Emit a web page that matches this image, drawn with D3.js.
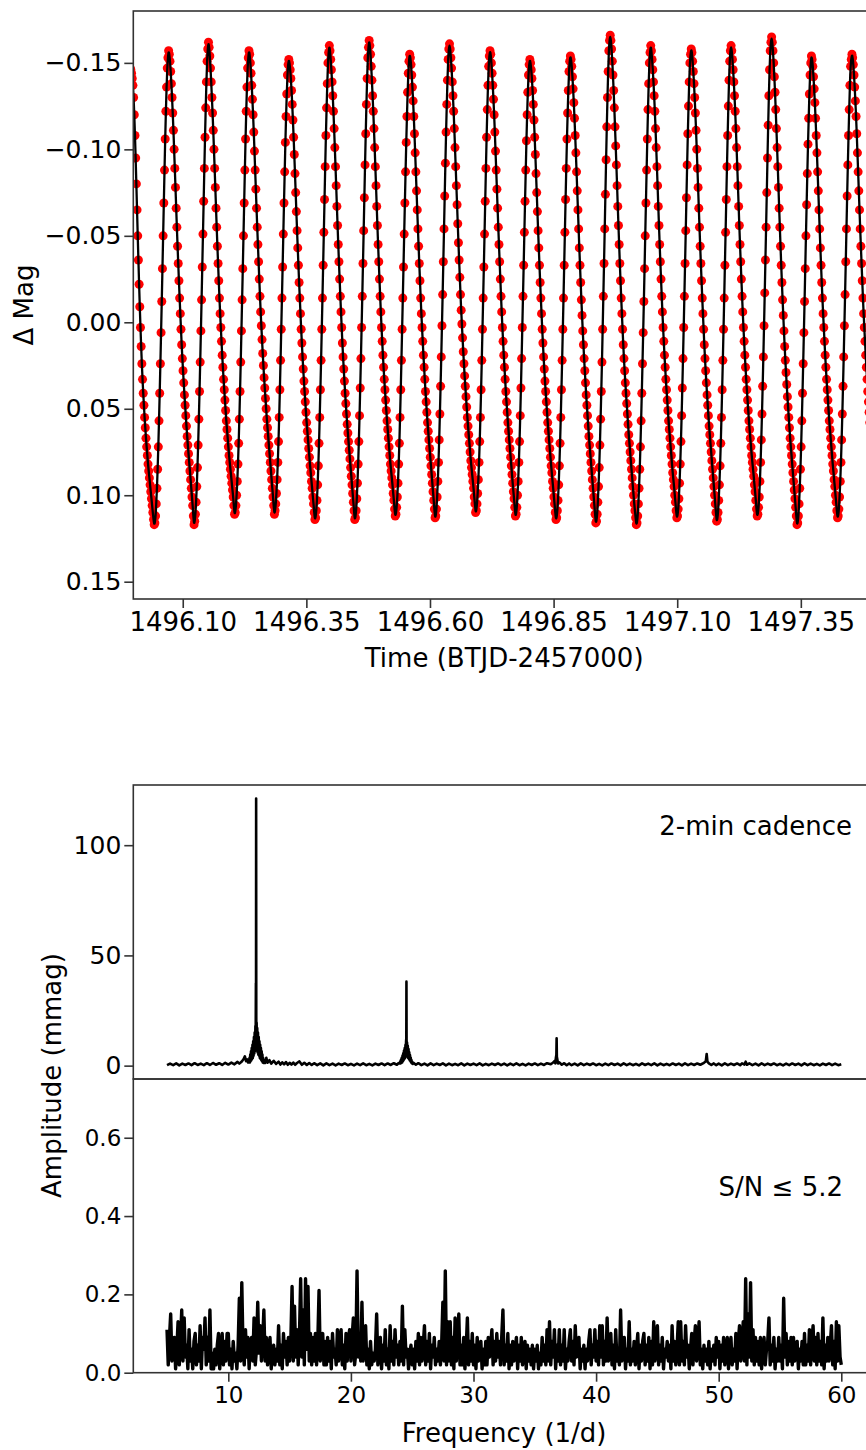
<!DOCTYPE html>
<html>
<head>
<meta charset="utf-8">
<script src="https://cdn.jsdelivr.net/npm/d3@7"></script>
<style>
  body { margin: 0; background: #fff; }
  svg { display: block; font-family: "DejaVu Sans", sans-serif; }
</style>
</head>
<body>
<svg id="fig" width="866" height="1450"></svg>
<script>
'use strict';

// ---- light curve: 2-min cadence, delta mag in mmag, one row per pulsation cycle (peak to peak)
var t0 = 1495.9895;
var cadence = 2 / 1440;
var lcCycles = [
  [-150,-149,-148,-147,-146,-144,-141,-137,-130,-120,-108,-95,-80,-65,-50,-36,-22,-9,3,14,24,33,41,48,55,61,67,72,77,82,86,90,94,98,102,106,110,114,
   117,116,112,105,96,85,72,57,41,24,6,-12,-31,-50,-69,-88,-106,-122,-136,-147,-153],
  [-157,-155,-151,-145,-138,-130,-121,-111,-100,-89,-78,-66,-55,-44,-34,-24,-14,-5,4,13,21,28,35,42,48,54,60,66,71,76,81,86,91,96,101,106,112,
   117,115,111,104,95,84,71,56,40,23,5,-13,-32,-51,-70,-89,-107,-124,-139,-151,-158],
  [-162,-159,-154,-147,-139,-130,-121,-111,-100,-89,-78,-66,-55,-44,-34,-24,-14,-5,3,11,19,26,33,39,45,51,57,62,67,72,77,81,85,89,93,97,101,106,
   111,110,106,100,92,82,70,56,40,23,5,-13,-31,-50,-69,-88,-106,-122,-136,-147,-153],
  [-157,-155,-150,-144,-137,-129,-120,-110,-99,-88,-77,-66,-55,-45,-35,-25,-15,-6,2,10,18,25,32,38,44,50,56,61,66,71,76,81,86,91,96,101,106,
   111,109,105,99,91,81,69,55,39,22,4,-14,-32,-51,-69,-87,-104,-119,-132,-143,-149],
  [-152,-150,-146,-141,-134,-126,-117,-107,-97,-86,-75,-64,-53,-43,-33,-23,-14,-5,4,12,20,27,34,40,46,52,58,63,68,73,78,83,87,92,96,101,105,110,
   114,113,109,103,94,83,70,55,39,22,4,-14,-33,-52,-71,-90,-108,-124,-138,-150,-156],
  [-160,-157,-152,-146,-139,-131,-122,-112,-101,-90,-79,-67,-56,-45,-35,-25,-15,-6,3,12,20,27,34,41,47,53,59,64,69,74,79,84,89,94,99,104,109,
   114,113,109,102,93,82,69,54,38,21,3,-15,-34,-53,-72,-91,-109,-126,-141,-153,-159],
  [-163,-160,-155,-148,-140,-131,-122,-112,-101,-90,-79,-67,-56,-45,-35,-25,-15,-6,3,11,19,26,33,39,45,51,57,62,67,72,77,82,86,90,94,99,103,108,
   112,111,107,101,93,82,70,55,39,22,4,-14,-32,-51,-69,-87,-104,-119,-133,-144,-151],
  [-155,-153,-149,-143,-136,-128,-119,-109,-98,-87,-76,-65,-54,-44,-34,-24,-14,-5,3,11,19,26,33,40,46,52,58,63,68,73,78,83,88,93,98,103,108,
   113,112,108,101,92,81,68,53,37,20,2,-16,-35,-54,-73,-92,-110,-126,-140,-152,-158],
  [-161,-158,-153,-147,-139,-131,-122,-112,-101,-90,-79,-68,-57,-46,-36,-26,-16,-7,1,9,17,24,31,37,43,49,55,60,65,70,75,80,84,88,92,96,101,105,
   110,109,105,99,91,81,69,55,39,22,4,-14,-32,-51,-70,-89,-107,-123,-137,-148,-154],
  [-157,-155,-150,-144,-137,-129,-120,-110,-99,-88,-77,-66,-55,-45,-35,-25,-15,-6,3,11,19,26,33,40,46,52,58,63,68,73,78,83,88,93,98,102,107,
   112,111,107,100,92,81,69,54,38,21,3,-15,-33,-52,-70,-88,-105,-120,-133,-143,-149],
  [-152,-150,-146,-141,-134,-126,-117,-107,-97,-86,-75,-64,-53,-43,-33,-23,-14,-5,4,12,20,27,34,40,46,52,58,63,68,73,78,83,87,92,96,101,105,110,
   114,113,109,103,94,83,70,55,39,22,4,-14,-33,-52,-71,-89,-106,-121,-134,-145,-151],
  [-154,-152,-148,-142,-135,-127,-118,-108,-98,-87,-76,-65,-54,-43,-33,-23,-13,-4,5,13,21,28,35,42,48,54,60,66,71,76,81,86,91,96,101,106,111,
   116,115,111,104,95,84,71,56,40,23,4,-15,-34,-54,-74,-94,-113,-130,-145,-157,-163],
  [-166,-163,-158,-151,-143,-134,-124,-113,-102,-91,-79,-67,-56,-45,-34,-24,-14,-5,4,13,21,28,35,41,47,53,59,65,70,75,80,85,90,95,100,105,109,113,
   117,116,112,105,96,85,72,57,41,24,6,-12,-31,-50,-69,-88,-106,-123,-138,-150,-156],
  [-160,-157,-152,-146,-139,-131,-122,-112,-101,-90,-79,-67,-56,-45,-35,-25,-15,-6,3,11,19,26,33,39,45,51,57,62,67,72,77,82,87,91,95,100,104,109,
   113,112,108,102,93,82,69,54,38,21,3,-15,-34,-53,-72,-91,-109,-125,-139,-150,-155],
  [-158,-156,-151,-145,-138,-130,-121,-111,-100,-89,-78,-66,-55,-44,-34,-24,-14,-5,4,13,21,28,35,42,48,54,60,65,70,75,80,85,90,95,100,105,110,
   115,114,110,103,94,83,70,55,39,22,4,-14,-33,-52,-71,-90,-108,-125,-140,-151,-157],
  [-160,-157,-152,-146,-139,-131,-122,-112,-101,-90,-79,-67,-56,-45,-35,-25,-15,-6,3,11,19,26,33,39,45,51,57,62,67,72,77,81,85,89,94,98,103,108,
   112,111,107,101,92,81,68,53,37,20,2,-17,-36,-55,-75,-95,-114,-131,-146,-157,-162],
  [-165,-162,-157,-150,-142,-133,-123,-112,-101,-90,-78,-66,-55,-44,-33,-23,-13,-4,5,14,22,29,36,43,49,55,61,67,72,77,82,87,92,97,102,107,112,
   117,116,112,105,96,85,72,57,41,24,6,-12,-31,-50,-68,-86,-103,-118,-132,-143,-150],
  [-154,-152,-148,-142,-135,-127,-118,-108,-98,-87,-76,-65,-54,-43,-33,-23,-14,-5,3,11,19,26,33,39,45,51,57,62,67,72,77,82,86,91,95,100,104,109,
   113,112,108,101,92,81,68,53,37,20,2,-16,-35,-54,-73,-91,-108,-123,-137,-148,-152],
  [-155,-153,-149,-143,-136,-128,-119,-109,-98,-87,-76,-65,-54,-44,-34,-24,-14,-5,3,11,19,26,33,40,46,52,58,63,68,73,78,83,88,93]
];
var lcTicksX = [1496.10, 1496.35, 1496.60, 1496.85, 1497.10, 1497.35];
var lcTicksY = [-0.15, -0.10, -0.05, 0.00, 0.05, 0.10, 0.15];

// ---- amplitude spectrum of the 2-min data: [frequency (1/d), amplitude (mmag)]
var spec2min = [
  [5.0,0.2],[5.25,0.9],[5.5,0.2],[5.75,1.0],[6.0,0.1],[6.25,0.9],[6.5,0.3],[6.75,1.0],[7.0,0.2],[7.25,1.1],[7.5,0.3],[7.75,0.9],[8.0,0.2],
  [8.25,1.1],[8.5,0.3],[8.75,1.2],[9.0,0.4],[9.25,1.1],[9.5,0.3],[9.75,1.3],[10.0,0.5],[10.25,1.4],[10.5,0.6],[10.75,1.7],[10.9,0.9],
  [11.1,1.9],[11.25,3.0],[11.35,4.2],[11.45,2.0],[11.55,2.8],[11.62,1.4],
  [11.70,1.5],[11.73,3.5],[11.76,1.5],[11.79,5.0],[11.82,2.0],[11.85,6.5],[11.88,2.5],[11.91,8.0],[11.94,3.0],[11.97,9.5],[12.00,3.5],
  [12.03,11.0],[12.06,4.5],[12.09,13.0],[12.12,5.5],[12.15,15.0],[12.18,6.5],[12.21,18.0],[12.23,8.0],[12.24,22.0],[12.25,37.5],[12.26,20.0],
  [12.27,121.2],[12.28,22.0],[12.29,9.0],[12.31,19.5],[12.33,7.0],[12.36,17.0],[12.39,6.0],[12.42,15.0],[12.45,5.0],[12.48,13.0],[12.51,4.5],
  [12.54,11.0],[12.57,3.5],[12.60,9.5],[12.63,3.0],[12.66,8.0],[12.69,2.5],[12.72,6.5],[12.75,2.0],[12.78,5.0],[12.81,1.5],[12.84,3.5],[12.87,1.2],
  [12.94,2.5],[13.0,1.2],[13.1,3.6],[13.2,1.3],[13.35,2.5],[13.5,0.9],[13.7,2.2],[13.9,0.8],[14.1,1.8],[14.25,0.5],[14.4,1.5],[14.55,0.6],
  [14.7,1.6],[14.85,0.4],[15.0,1.3],[15.15,0.5],[15.3,1.4],[15.45,0.4],[15.6,1.2],[15.8,1.9],[16.0,0.4],[16.2,1.3],[16.4,0.3],[16.6,1.2],
  [16.8,0.3],[17.0,1.1],[17.25,0.2],[17.5,1.0],[17.75,0.1],[18.0,1.0],[18.25,0.2],[18.5,0.9],[18.75,0.1],[19.0,0.9],[19.25,0.3],[19.5,1.0],
  [19.75,0.2],[20.0,0.8],[20.25,0.1],[20.5,0.9],[20.75,0.2],[21.0,1.0],[21.25,0.2],[21.5,0.8],[21.75,0.1],[22.0,0.9],[22.25,0.3],[22.5,1.0],
  [22.75,0.2],[23.0,1.0],[23.25,0.3],[23.5,1.1],[23.75,0.4],[23.9,1.2],
  [24.00,1.0],[24.03,2.0],[24.06,1.0],[24.09,2.8],[24.12,1.2],[24.15,3.6],[24.18,1.5],[24.21,4.6],[24.24,2.0],[24.27,5.6],[24.30,2.5],[24.33,6.8],
  [24.36,3.0],[24.39,8.0],[24.42,3.5],[24.45,9.4],[24.48,4.5],[24.50,11.0],[24.52,12.5],[24.53,38.1],[24.54,12.0],[24.56,5.0],[24.58,10.5],
  [24.61,4.0],[24.64,9.0],[24.67,3.5],[24.70,7.5],[24.73,3.0],[24.76,6.0],[24.79,2.5],[24.82,4.8],[24.85,2.0],[24.88,3.6],[24.91,1.5],[24.94,2.5],
  [24.97,1.0],[25.00,1.8],[25.05,0.8],[25.1,1.3],[25.3,0.4],[25.5,1.1],[25.75,0.2],[26.0,0.9],[26.25,0.1],[26.5,1.0],[26.75,0.2],[27.0,0.9],
  [27.25,0.3],[27.5,1.0],[27.75,0.1],[28.0,0.9],[28.25,0.2],[28.5,0.8],[28.75,0.2],[29.0,1.0],[29.25,0.1],[29.5,0.9],[29.75,0.3],[30.0,0.9],
  [30.25,0.2],[30.5,1.0],[30.75,0.1],[31.0,0.8],[31.25,0.2],[31.5,0.9],[31.75,0.3],[32.0,1.0],[32.25,0.2],[32.5,0.9],[32.75,0.1],[33.0,0.9],
  [33.25,0.2],[33.5,1.0],[33.75,0.2],[34.0,0.8],[34.25,0.1],[34.5,0.9],[34.75,0.3],[35.0,1.0],[35.25,0.2],[35.5,0.9],[35.75,0.3],[36.0,1.1],
  [36.3,0.6],[36.5,1.4],[36.6,2.0],[36.68,1.0],[36.72,3.5],[36.76,5.0],[36.78,12.4],[36.8,4.0],[36.85,2.5],[36.9,1.0],[37.0,1.5],[37.2,0.4],
  [37.4,1.1],[37.6,0.2],[37.8,1.0],[38.0,0.2],[38.25,0.9],[38.5,0.1],[38.75,1.0],[39.0,0.2],[39.25,0.9],[39.5,0.3],[39.75,1.0],[40.0,0.2],
  [40.25,0.8],[40.5,0.1],[40.75,0.9],[41.0,0.2],[41.25,1.0],[41.5,0.3],[41.75,0.9],[42.0,0.1],[42.25,1.0],[42.5,0.2],[42.75,0.9],[43.0,0.2],
  [43.25,0.8],[43.5,0.1],[43.75,1.0],[44.0,0.3],[44.25,0.9],[44.5,0.2],[44.75,1.0],[45.0,0.1],[45.25,0.9],[45.5,0.2],[45.75,0.8],[46.0,0.2],
  [46.25,1.0],[46.5,0.3],[46.75,0.9],[47.0,0.1],[47.25,1.0],[47.5,0.2],[47.75,0.9],[48.0,0.3],[48.25,1.0],[48.5,0.4],[48.8,1.3],[48.95,2.0],
  [49.02,5.3],[49.08,1.8],[49.2,1.0],[49.4,0.3],[49.6,1.0],[49.8,0.2],[50.0,0.9],[50.25,0.1],[50.5,1.0],[50.75,0.2],[51.0,0.9],[51.25,0.3],
  [51.5,1.0],[51.75,0.2],[51.9,1.0],[52.1,0.5],[52.2,1.8],[52.3,0.4],[52.5,1.0],[52.75,0.2],[53.0,0.9],[53.25,0.1],[53.5,1.0],[53.75,0.2],
  [54.0,0.9],[54.25,0.3],[54.5,1.0],[54.75,0.2],[55.0,0.8],[55.25,0.1],[55.5,0.9],[55.75,0.2],[56.0,1.0],[56.25,0.3],[56.5,0.9],[56.75,0.1],
  [57.0,1.0],[57.25,0.2],[57.5,0.9],[57.75,0.2],[58.0,0.8],[58.25,0.1],[58.5,0.9],[58.75,0.3],[59.0,1.0],[59.25,0.2],[59.5,0.9],[59.75,0.2],
  [60.0,0.6]
];

// ---- residual spectrum after prewhitening, 0.1 (1/d) steps from 5.0, amplitude in 0.01 mmag
var residF0 = 5.0;
var residStep = 0.1;
var resid = [
  11,2,9,15,3,7,9,1,6,13,  2,8,16,3,14,4,7,1,11,3,  6,1,8,10,2,7,3,12,1,9,  6,14,2,9,3,16,1,5,1,6,  2,7,10,1,6,10,2,8,3,10,
  10,2,6,1,8,3,5,1,7,19,  3,23,6,2,11,4,9,1,8,9,  3,14,2,6,18,5,12,3,8,16,  3,9,2,6,9,1,5,7,2,6,  3,12,2,7,1,10,4,8,2,9,
  3,8,22,3,17,4,11,2,9,24,  4,16,2,24,6,22,3,10,2,9,  3,10,2,8,21,3,9,10,2,8,  2,9,3,8,1,10,4,6,2,11,  3,8,11,2,7,1,10,3,9,11,
  3,9,14,2,5,26,4,10,3,18,  3,8,12,2,6,1,8,2,5,3,  6,15,2,8,9,1,7,3,11,2,  6,1,12,3,8,2,11,4,7,2,  8,3,17,2,11,4,6,1,5,7,
  2,6,1,8,3,10,2,9,3,7,  12,2,8,3,10,1,7,4,9,2,  6,3,8,2,7,18,3,26,2,13,  3,13,2,9,1,14,3,8,15,2,  7,2,9,1,6,14,2,8,3,10,
  2,7,1,9,3,6,8,1,6,2,  8,2,9,4,7,11,2,8,3,10,  4,8,2,9,16,2,7,3,10,1,  7,2,8,3,6,9,1,7,3,9,  2,6,8,1,7,3,6,2,7,1,
  6,3,7,1,5,2,9,3,7,2,  11,3,13,2,8,4,11,1,7,3,  11,2,7,3,11,1,6,3,8,11,  3,8,2,12,4,7,9,1,6,3,  7,1,6,3,8,11,2,7,4,11,
  3,8,2,12,4,12,2,8,3,14,  3,6,10,2,7,1,11,3,6,2,  16,3,7,9,1,6,3,13,2,6,  3,8,2,6,10,1,7,3,8,10,  2,7,3,9,1,8,2,13,3,7,
  12,2,7,3,9,1,6,4,8,3,  7,1,12,3,8,2,6,13,2,13,  3,8,2,12,4,7,1,6,10,2,  8,12,3,7,13,2,6,1,7,3,  6,2,8,1,6,3,7,2,9,4,
  8,1,7,3,9,2,6,9,1,7,  9,2,6,3,10,1,8,12,3,6,  13,3,24,2,15,4,23,3,11,2,  9,3,8,2,9,1,7,9,2,6,  8,14,2,7,3,9,1,6,3,9,
  3,7,1,19,4,10,2,8,3,9,  2,9,3,7,8,1,6,3,8,2,  10,2,7,3,11,2,8,12,3,9,  2,10,3,8,2,14,1,7,3,9,  3,7,12,2,8,1,13,3,12,4,
  2
];
var freqTicks = [10, 20, 30, 40, 50, 60];
var ampTicksTop = [0, 50, 100];
var ampTicksBottom = [0.0, 0.2, 0.4, 0.6];

// ---- layout
var svg = d3.select('#fig');
var left = 133.3, right = 875;
var lc = {top: 11, bottom: 599};
var sp1 = {top: 785, bottom: 1079};
var sp2 = {top: 1079, bottom: 1372.7};
var spine = '#333';
var font = 'DejaVu Sans';

function clip(id, y0, y1) {
  svg.append('clipPath').attr('id', id)
    .append('rect').attr('x', left).attr('y', y0).attr('width', right - left).attr('height', y1 - y0);
}
function styleAxis(g, size) {
  g.select('.domain').remove();
  g.attr('font-family', font).attr('font-size', size);
  g.selectAll('.tick line').attr('stroke', spine).attr('stroke-width', 1.6);
  g.selectAll('.tick text').attr('fill', '#000');
}
function frame(y0, y1) {
  svg.append('rect').attr('x', left).attr('y', y0).attr('width', right - left).attr('height', y1 - y0)
    .attr('fill', 'none').attr('stroke', spine).attr('stroke-width', 1.6);
}

// ---- top panel: light curve
var xT = d3.scaleLinear().domain([1496.0, 1497.5]).range([left, right]);
var yT = d3.scaleLinear().domain([-0.18, 0.16]).range([lc.top, lc.bottom]);
var lcMag = d3.merge(lcCycles);
var lcData = lcMag.map(function(m, i) { return {t: t0 + i * cadence, m: m / 1000}; });

clip('clipLC', lc.top, lc.bottom);
var gLC = svg.append('g').attr('clip-path', 'url(#clipLC)');
gLC.selectAll('circle').data(lcData).enter().append('circle')
  .attr('cx', function(d) { return xT(d.t); })
  .attr('cy', function(d) { return yT(d.m); })
  .attr('r', 4.5)
  .attr('fill', '#ff0000');
gLC.append('path').datum(lcData)
  .attr('fill', 'none').attr('stroke', '#000').attr('stroke-width', 2.3)
  .attr('d', d3.line().curve(d3.curveBasis)
    .x(function(d) { return xT(d.t); })
    .y(function(d) { return yT(d.m); }));
frame(lc.top, lc.bottom);

svg.append('g').attr('transform', 'translate(' + left + ',0)')
  .call(d3.axisLeft(yT).tickValues(lcTicksY).tickSize(9).tickPadding(3).tickFormat(d3.format('.2f')))
  .call(styleAxis, 25);
svg.append('g').attr('transform', 'translate(0,' + lc.bottom + ')')
  .call(d3.axisBottom(xT).tickValues(lcTicksX).tickSize(9).tickPadding(5).tickFormat(d3.format('.2f')))
  .call(styleAxis, 26);

svg.append('text').attr('x', (left + right) / 2).attr('y', 667)
  .attr('text-anchor', 'middle').attr('font-size', 26).text('Time (BTJD-2457000)');
svg.append('text').attr('transform', 'translate(32.5,' + (lc.top + lc.bottom) / 2 + ') rotate(-90)')
  .attr('text-anchor', 'middle').attr('font-size', 26).text('Δ Mag');

// ---- spectra
var xF = d3.scaleLinear().domain([2.25, 62.75]).range([left, right]);
var yA1 = d3.scaleLinear().domain([-6.06, 127.3]).range([sp1.bottom, sp1.top]);
var yA2 = d3.scaleLinear().domain([0, 0.75]).range([sp2.bottom, sp2.top]);

clip('clipS1', sp1.top, sp1.bottom);
svg.append('g').attr('clip-path', 'url(#clipS1)')
  .append('path').datum(spec2min)
  .attr('fill', 'none').attr('stroke', '#000').attr('stroke-width', 2.6).attr('stroke-linejoin', 'round')
  .attr('d', d3.line()
    .x(function(d) { return xF(d[0]); })
    .y(function(d) { return yA1(d[1]); }));

clip('clipS2', sp2.top, sp2.bottom);
svg.append('g').attr('clip-path', 'url(#clipS2)')
  .append('path').datum(resid)
  .attr('fill', 'none').attr('stroke', '#000').attr('stroke-width', 3.4).attr('stroke-linejoin', 'round')
  .attr('d', d3.line()
    .x(function(d, i) { return xF(residF0 + i * residStep); })
    .y(function(d) { return yA2(d / 100); }));

frame(sp1.top, sp1.bottom);
frame(sp2.top, sp2.bottom);

svg.append('g').attr('transform', 'translate(' + left + ',0)')
  .call(d3.axisLeft(yA1).tickValues(ampTicksTop).tickSize(9).tickPadding(3).tickFormat(d3.format('d')))
  .call(styleAxis, 25);
svg.append('g').attr('transform', 'translate(' + left + ',0)')
  .call(d3.axisLeft(yA2).tickValues(ampTicksBottom).tickSize(9).tickPadding(3).tickFormat(d3.format('.1f')))
  .call(styleAxis, 23);
svg.append('g').attr('transform', 'translate(0,' + sp2.bottom + ')')
  .call(d3.axisBottom(xF).tickValues(freqTicks).tickSize(9).tickPadding(5).tickFormat(d3.format('d')))
  .call(styleAxis, 23);

svg.append('text').attr('x', 852).attr('y', 835)
  .attr('text-anchor', 'end').attr('font-size', 26).text('2-min cadence');
svg.append('text').attr('x', 843).attr('y', 1196)
  .attr('text-anchor', 'end').attr('font-size', 26).text('S/N ≤ 5.2');

svg.append('text').attr('x', (left + right) / 2).attr('y', 1442)
  .attr('text-anchor', 'middle').attr('font-size', 26).text('Frequency (1/d)');
svg.append('text').attr('transform', 'translate(60.5,1075.5) rotate(-90)')
  .attr('text-anchor', 'middle').attr('font-size', 26).text('Amplitude (mmag)');
</script>
</body>
</html>
